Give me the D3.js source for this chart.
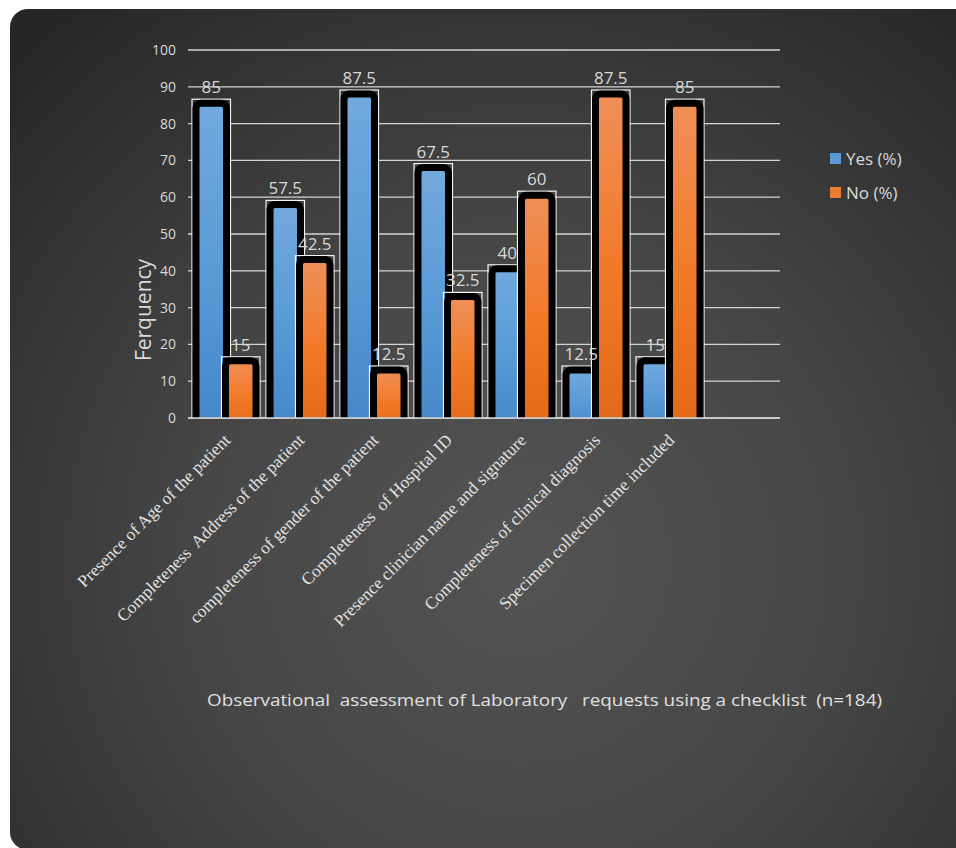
<!DOCTYPE html>
<html><head><meta charset="utf-8">
<script src="https://cdn.jsdelivr.net/npm/d3@7"></script>
<style>html,body{margin:0;padding:0;background:#fff;}svg{display:block;}</style>
</head><body>
<svg id="chart" width="956" height="848"></svg>
<script>
const categories = [
  "Presence of Age of the patient",
  "Completeness  Address of the patient",
  "completeness of gender of the patient",
  "Completeness  of Hospital ID",
  "Presence clinician name and signature",
  "Completeness of clinical diagnosis",
  "Specimen collection time included",
  ""
];
const yesValues = [85, 57.5, 87.5, 67.5, 40, 12.5, 15];
const noValues = [15, 42.5, 12.5, 32.5, 60, 87.5, 85];
const seriesNames = ["Yes (%)", "No (%)"];
const yTicks = [0, 10, 20, 30, 40, 50, 60, 70, 80, 90, 100];
const yTitle = "Ferquency";
const caption = "Observational  assessment of Laboratory   requests using a checklist  (n=184)";

const svg = d3.select("#chart");
const defs = svg.append("defs");

const bg = defs.append("radialGradient").attr("id", "bg")
  .attr("gradientUnits", "userSpaceOnUse")
  .attr("cx", 520).attr("cy", 560).attr("r", 720);
bg.append("stop").attr("offset", "0").attr("stop-color", "#545454");
bg.append("stop").attr("offset", "0.45").attr("stop-color", "#464646");
bg.append("stop").attr("offset", "1").attr("stop-color", "#262626");

function vgrad(id, top, mid, bot) {
  const g = defs.append("linearGradient").attr("id", id)
    .attr("x1", 0).attr("y1", 0).attr("x2", 0).attr("y2", 1);
  g.append("stop").attr("offset", "0").attr("stop-color", top);
  g.append("stop").attr("offset", "0.5").attr("stop-color", mid);
  g.append("stop").attr("offset", "1").attr("stop-color", bot);
}
vgrad("gYes", "#73a9de", "#5a9bd7", "#4486c8");
vgrad("gNo", "#f08f59", "#f27b2a", "#e06816");

defs.append("clipPath").attr("id", "plotClip")
  .append("rect").attr("x", 150).attr("y", 0).attr("width", 700).attr("height", 418);

svg.append("rect").attr("x", 10).attr("y", 9).attr("width", 1000).attr("height", 841)
  .attr("rx", 18).attr("fill", "url(#bg)");

const x0 = 188, x1 = 780, yBase = 418, yTop = 50;
const x = d3.scaleBand().domain(categories.map((d, i) => i)).range([x0, x1]).padding(0);
const y = d3.scaleLinear().domain([0, 100]).range([yBase, yTop]);

const textColor = "#d9d9d9";

// gridlines
svg.append("g").selectAll("line").data(yTicks).join("line")
  .attr("x1", x0).attr("x2", x1)
  .attr("y1", d => y(d)).attr("y2", d => y(d))
  .attr("stroke", "#d4d4d4").attr("stroke-width", 1.3);

// y axis labels
const yAxis = d3.axisLeft(y).tickValues(yTicks).tickSize(0).tickPadding(12);
const ya = svg.append("g").attr("transform", `translate(${x0},0)`).call(yAxis);
ya.select(".domain").remove();
ya.selectAll("text").attr("fill", textColor).attr("font-family", "Open Sans, sans-serif")
  .attr("font-size", 14);

// y title
svg.append("text").attr("transform", "translate(151,310) rotate(-90)")
  .attr("text-anchor", "middle").attr("fill", textColor)
  .attr("font-family", "Open Sans, sans-serif").attr("font-size", 21).text(yTitle);

// bars
const outerW = 37.5, offset = 29.5, sw = 7;
const series = [
  {name: seriesNames[0], values: yesValues, fill: "url(#gYes)", dx: 0},
  {name: seriesNames[1], values: noValues, fill: "url(#gNo)", dx: offset}
];
const barG = svg.append("g").attr("clip-path", "url(#plotClip)");
categories.forEach((c, i) => {
  series.forEach(s => {
    const v = s.values[i];
    if (v === undefined) return;
    const ox = x(i) + 4.5 + s.dx;
    const oy = y(v) - 5.5;
    barG.append("rect").attr("x", ox - 0.5).attr("y", oy - 0.5)
      .attr("width", outerW + 1).attr("height", yBase - oy + 10)
      .attr("fill", "none").attr("stroke", "#f4f4f4").attr("stroke-width", 1.2);
    barG.append("rect").attr("x", ox + sw / 2).attr("y", oy + sw / 2)
      .attr("width", outerW - sw).attr("height", yBase - oy + 10)
      .attr("rx", 5).attr("fill", s.fill)
      .attr("stroke", "#000").attr("stroke-width", sw);
  });
});

// baseline redraw
svg.append("line").attr("x1", x0).attr("x2", x1).attr("y1", yBase).attr("y2", yBase)
  .attr("stroke", "#d4d4d4").attr("stroke-width", 1.3);

// value labels
categories.forEach((c, i) => {
  series.forEach(s => {
    const v = s.values[i];
    if (v === undefined) return;
    const cx = x(i) + 4.5 + s.dx + outerW / 2;
    svg.append("text").attr("x", cx).attr("y", y(v) - 12)
      .attr("text-anchor", "middle").attr("fill", textColor)
      .attr("font-family", "Open Sans, sans-serif").attr("font-size", 17).text(v);
  });
});

// x labels
categories.forEach((c, i) => {
  if (!c) return;
  const cx = x(i) + x.bandwidth() / 2 + 2;
  svg.append("text").attr("transform", `translate(${cx},437) rotate(-45)`)
    .attr("text-anchor", "end").attr("dy", "0.35em")
    .attr("fill", "#e2e2e2").attr("font-family", "Liberation Serif, serif")
    .attr("font-size", 17.3).style("white-space", "pre").text(c);
});

// legend
series.forEach((s, i) => {
  const ly = 153 + i * 34;
  svg.append("rect").attr("x", 830).attr("y", ly).attr("width", 11).attr("height", 11)
    .attr("fill", i === 0 ? "#5b9bd5" : "#ed7d31");
  svg.append("text").attr("x", 846).attr("y", ly + 12).attr("fill", textColor)
    .attr("font-family", "Open Sans, sans-serif").attr("font-size", 17).text(s.name);
});

// caption
svg.append("text").attr("x", 207).attr("y", 706).attr("fill", "#e0e0e0")
  .attr("font-family", "Open Sans, sans-serif").attr("font-size", 17)
  .style("white-space", "pre").attr("textLength", 675).attr("lengthAdjust", "spacingAndGlyphs")
  .text(caption);
</script>
</body></html>
